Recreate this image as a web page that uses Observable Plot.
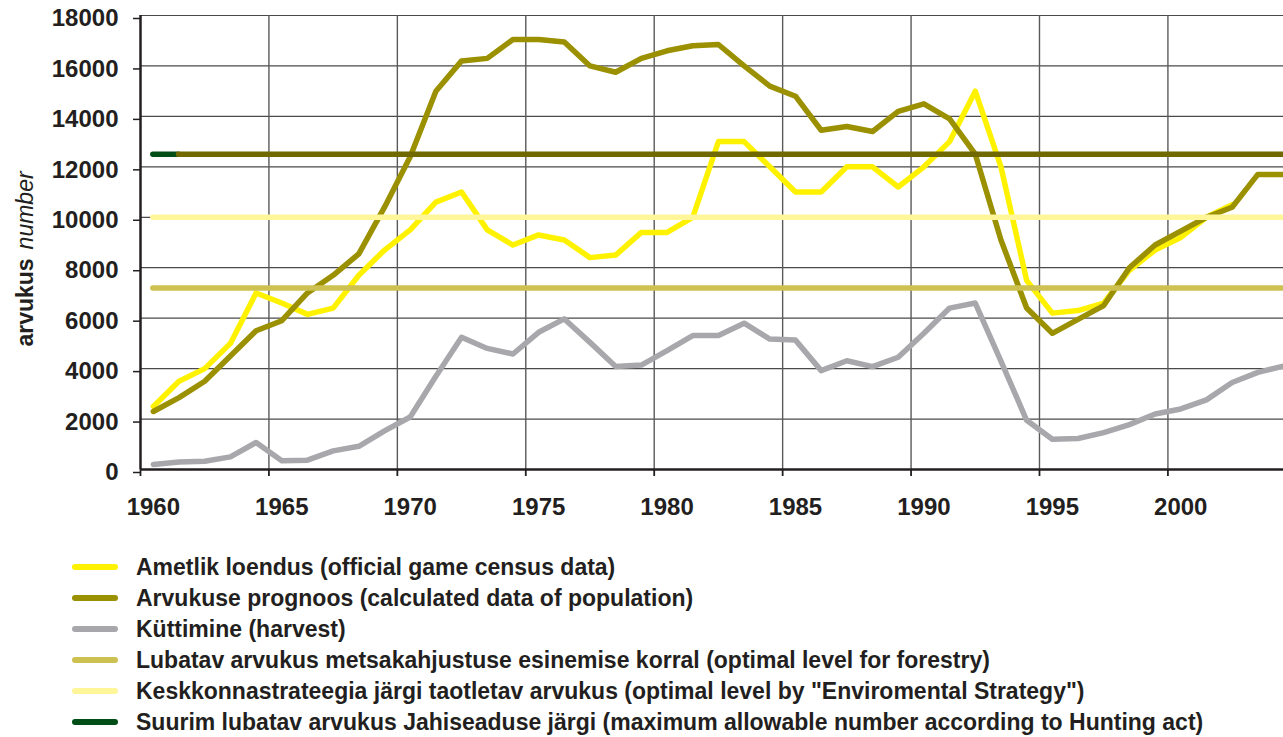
<!DOCTYPE html>
<html>
<head>
<meta charset="utf-8">
<script src="https://cdn.jsdelivr.net/npm/d3@7"></script>
<script src="https://cdn.jsdelivr.net/npm/@observablehq/plot@0.6"></script>
<style>
  html, body { margin: 0; padding: 0; background: #fff; }
  body { width: 1283px; height: 737px; overflow: hidden; font-family: "Liberation Sans", Arial, sans-serif; color: #231f20; }
  #chart svg { display: block; }
  #legend { padding-top: 21px; }
  .row { position: relative; height: 31px; }
  .sw { position: absolute; left: 72px; width: 46px; height: 6px; border-radius: 3px; top: 13px; }
  .lbl { position: absolute; left: 136px; top: 2px; font-size: 23px; font-weight: bold; white-space: nowrap; line-height: 28px; }
</style>
</head>
<body>
<div id="chart"></div>
<div id="legend"></div>
<script>
// ---- data ----
const years = [1960,1961,1962,1963,1964,1965,1966,1967,1968,1969,
  1970,1971,1972,1973,1974,1975,1976,1977,1978,1979,
  1980,1981,1982,1983,1984,1985,1986,1987,1988,1989,
  1990,1991,1992,1993,1994,1995,1996,1997,1998,1999,
  2000,2001,2002,2003,2004];

// Ametlik loendus (official game census data), 1960–2002
const official = [2500,3500,4000,5000,7000,6600,6150,6400,7700,8700,
  9500,10600,11000,9500,8900,9300,9100,8400,8500,9400,
  9400,10000,13000,13000,12000,11000,11000,12000,12000,11200,
  12000,13000,15000,12000,7500,6200,6300,6600,7900,8700,
  9200,10000,10500];

// Arvukuse prognoos (calculated data of population), 1960–2004
const prognoos = [2300,2850,3500,4500,5500,5900,7000,7700,8550,10400,
  12400,15000,16200,16300,17050,17050,16950,16000,15750,16300,
  16600,16800,16850,16000,15200,14800,13450,13600,13400,14200,
  14500,13900,12500,9100,6400,5400,5950,6500,8000,8900,
  9450,10000,10400,11700,11700];

// Küttimine (harvest), 1960–2004
const harvest = [200,300,330,500,1070,350,370,740,920,1530,
  2080,3700,5240,4800,4580,5440,5970,5040,4080,4140,
  4710,5310,5310,5800,5170,5130,3920,4310,4080,4450,
  5400,6400,6600,4300,1950,1200,1230,1460,1780,2200,
  2400,2760,3450,3850,4100];

const levelForestry = 7200;   // optimal level for forestry
const levelStrategy = 10000;  // "Enviromental Strategy"
const levelHunting = 12500;   // Hunting act maximum

const yTicks = [0,2000,4000,6000,8000,10000,12000,14000,16000,18000];
const xLabelYears = [1960,1965,1970,1975,1980,1985,1990,1995,2000];

const legendItems = [
  {label: "Ametlik loendus (official game census data)", color: "#fff200"},
  {label: "Arvukuse prognoos (calculated data of population)", color: "#9a9000"},
  {label: "Küttimine (harvest)", color: "#a8a8ac"},
  {label: "Lubatav arvukus metsakahjustuse esinemise korral (optimal level for forestry)", color: "#cdc152"},
  {label: "Keskkonnastrateegia järgi taotletav arvukus (optimal level by \"Enviromental Strategy\")", color: "#fff599"},
  {label: "Suurim lubatav arvukus Jahiseaduse järgi (maximum allowable number according to Hunting act)", color: "#004d17"}
];

// ---- tables ----
const officialData = official.map((v, i) => ({year: years[i], value: v}));
const prognoosData = prognoos.map((v, i) => ({year: years[i], value: v}));
const harvestData = harvest.map((v, i) => ({year: years[i], value: v}));
const firstYear = years[0], lastYear = years[years.length - 1];
// category boundaries (ticks/grid sit between categories)
const boundaries = xLabelYears.map(y => y - 0.5);

const ink = "#231f20";

const plot = Plot.plot({
  width: 1283,
  height: 530,
  marginLeft: 140,
  marginRight: 0,
  marginTop: 15,
  marginBottom: 61,
  style: {fontFamily: "'Liberation Sans', Arial, sans-serif", fontSize: "24px", fontWeight: "bold", color: ink, background: "#fff"},
  x: {domain: [firstYear - 0.5, lastYear], axis: null},
  y: {domain: [0, 18000], axis: null},
  marks: [
    // grid
    Plot.ruleY(yTicks, {stroke: "#4a4a4a", strokeWidth: 1.2}),
    Plot.ruleX(boundaries.slice(1), {stroke: "#5a5a5a", strokeWidth: 1.4}),
    // data series
    Plot.line(harvestData, {x: "year", y: "value", stroke: "#a8a8ac", strokeWidth: 5.5}),
    Plot.line(officialData, {x: "year", y: "value", stroke: "#fff200", strokeWidth: 5.5}),
    Plot.line(prognoosData, {x: "year", y: "value", stroke: "#9a9000", strokeWidth: 5.5}),
    // levels
    Plot.ruleY([levelForestry], {x1: firstYear, x2: lastYear, stroke: "#cdc152", strokeWidth: 5.5, strokeLinecap: "round"}),
    Plot.ruleY([levelStrategy], {x1: firstYear, x2: lastYear, stroke: "#fff599", strokeWidth: 5.5, strokeLinecap: "round"}),
    Plot.ruleY([levelHunting], {x1: firstYear, x2: firstYear + 1, stroke: "#004d17", strokeWidth: 5.5, strokeLinecap: "round"}),
    Plot.ruleY([levelHunting], {x1: firstYear + 1, x2: lastYear, stroke: "#6f6900", strokeWidth: 5.5, strokeLinecap: "round"}),
    // axes
    Plot.axisY(yTicks, {tickSize: 7, tickPadding: 15, tickFormat: d => String(d), stroke: ink, strokeWidth: 1.5, fill: ink, dy: 3, label: null}),
    Plot.axisX(boundaries, {tickSize: 7, tickFormat: () => "", stroke: ink, strokeWidth: 1.8, label: null}),
    Plot.axisX(xLabelYears, {tickSize: 0, tickPadding: 28, tickFormat: d => String(d), fill: ink, label: null}),
    Plot.ruleX([firstYear - 0.5], {stroke: ink, strokeWidth: 2.5}),
    Plot.ruleY([0], {stroke: ink, strokeWidth: 2.5})
  ]
});

document.getElementById("chart").appendChild(plot);

// rotated y-axis title with mixed styles
const svg = d3.select(plot);
const t = svg.append("text")
  .attr("transform", "translate(33,259) rotate(-90)")
  .attr("text-anchor", "middle")
  .attr("fill", ink)
  .style("font-family", "'Liberation Sans', Arial, sans-serif")
  .style("font-size", "23px");
t.append("tspan").attr("font-weight", "bold").text("arvukus");
t.append("tspan").attr("font-weight", "normal").attr("font-style", "italic").attr("dx", "9").text("number");

// legend
const legend = d3.select("#legend");
legendItems.forEach(item => {
  const row = legend.append("div").attr("class", "row");
  row.append("div").attr("class", "sw").style("background", item.color);
  row.append("div").attr("class", "lbl").text(item.label);
});
</script>
</body>
</html>
